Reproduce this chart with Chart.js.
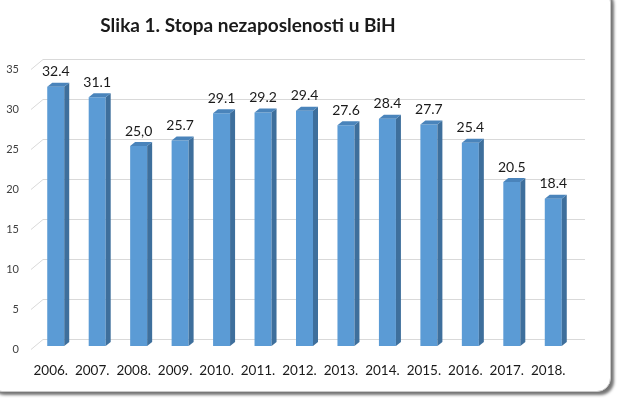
<!doctype html>
<html lang="bs">
<head>
<meta charset="UTF-8" />
<title>Slika 1. Stopa nezaposlenosti u BiH</title>
<script src="https://cdn.jsdelivr.net/npm/chart.js"></script>
<style>
    html, body { margin: 0; padding: 0; background: #fff; overflow: hidden; }
    #wrap { position: relative; width: 632px; height: 399px; }
    #frame {
        position: absolute; left: -12px; top: -12px; width: 621px; height: 402px;
        border: 1px solid #c8c8c8; border-radius: 14px; background: #fff;
        box-shadow: 3px 3px 3px rgba(0, 0, 0, 0.55);
    }
    canvas { position: absolute; left: 0; top: 0; }
</style>
</head>
<body>
<div id="wrap">
    <div id="frame"></div>
    <canvas id="chart" width="632" height="399"></canvas>
</div>
<script>
const years = ['2006.', '2007.', '2008.', '2009.', '2010.', '2011.', '2012.', '2013.', '2014.', '2015.', '2016.', '2017.', '2018.']
const rates = [32.4, 31.1, 25.0, 25.7, 29.1, 29.2, 29.4, 27.6, 28.4, 27.7, 25.4, 20.5, 18.4]
const rateLabels = ['32.4', '31.1', '25,0', '25.7', '29.1', '29.2', '29.4', '27.6', '28.4', '27.7', '25.4', '20.5', '18.4']
const titleText = 'Slika 1. Stopa nezaposlenosti u BiH'

const DX = 5, DY = 4 // bar depth

// back-wall gridlines with the little slanted floor bit on the left
const wallGrid = {
    id: 'wallGrid',
    beforeDatasetsDraw(chart) {
        const { ctx, chartArea, scales } = chart
        ctx.save()
        ctx.strokeStyle = '#d9d9d9'
        ctx.lineWidth = 1
        scales.y.ticks.forEach(t => {
            const y = Math.round(scales.y.getPixelForValue(t.value)) + 0.5
            ctx.beginPath()
            ctx.moveTo(chartArea.left - 4, y + 3)
            ctx.lineTo(chartArea.left + 8, y - 7)
            ctx.lineTo(chartArea.right + 11, y - 7)
            ctx.stroke()
        })
        ctx.restore()
    }
}

// side and top faces + value labels
const bars3d = {
    id: 'bars3d',
    afterDatasetsDraw(chart) {
        const { ctx } = chart
        const meta = chart.getDatasetMeta(0)
        ctx.save()
        meta.data.forEach((bar, i) => {
            const l = bar.x - bar.width / 2, r = bar.x + bar.width / 2
            ctx.fillStyle = '#3e6f9c'
            ctx.beginPath()
            ctx.moveTo(r, bar.y)
            ctx.lineTo(r + DX, bar.y - DY)
            ctx.lineTo(r + DX, bar.base - DY)
            ctx.lineTo(r, bar.base)
            ctx.closePath()
            ctx.fill()
            ctx.fillStyle = '#4a84bb'
            ctx.beginPath()
            ctx.moveTo(l, bar.y)
            ctx.lineTo(l + DX, bar.y - DY)
            ctx.lineTo(r + DX, bar.y - DY)
            ctx.lineTo(r, bar.y)
            ctx.closePath()
            ctx.fill()

            ctx.fillStyle = '#1a1a1a'
            ctx.font = '14px Lato'
            ctx.textAlign = 'center'
            ctx.textBaseline = 'middle'
            ctx.fillText(rateLabels[i], bar.x, bar.y - 15)
        })
        ctx.restore()
    }
}

const titleDraw = {
    id: 'titleDraw',
    afterDraw(chart) {
        const { ctx } = chart
        ctx.save()
        ctx.fillStyle = '#1a1a1a'
        ctx.font = 'bold 19px Lato'
        ctx.textAlign = 'center'
        ctx.textBaseline = 'alphabetic'
        ctx.fillText(titleText, 248, 32)
        ctx.restore()
    }
}

new Chart(document.getElementById('chart'), {
    type: 'bar',
    data: {
        labels: years,
        datasets: [{
            data: rates,
            backgroundColor: '#5b9bd5',
            borderWidth: 0,
            categoryPercentage: 1,
            barPercentage: 0.41,
        }],
    },
    options: {
        responsive: false,
        animation: false,
        layout: { padding: { left: 0, right: 58, top: 66, bottom: 13 } },
        plugins: { legend: { display: false }, tooltip: { enabled: false }, title: { display: false } },
        scales: {
            x: {
                grid: { display: false, drawTicks: false },
                border: { display: false },
                ticks: { padding: 17, labelOffset: -5, color: '#1a1a1a', font: { family: 'Lato', size: 13.5 } },
                afterFit: s => { s.height = 40 },
            },
            y: {
                min: 0,
                max: 35,
                grid: { display: false, drawTicks: false },
                border: { display: false },
                ticks: { stepSize: 5, padding: 16, labelOffset: 3, color: '#404040', font: { family: 'Lato', size: 11 } },
                afterFit: s => { s.width = 35 },
            },
        },
    },
    plugins: [wallGrid, bars3d, titleDraw],
})
</script>
</body>
</html>
